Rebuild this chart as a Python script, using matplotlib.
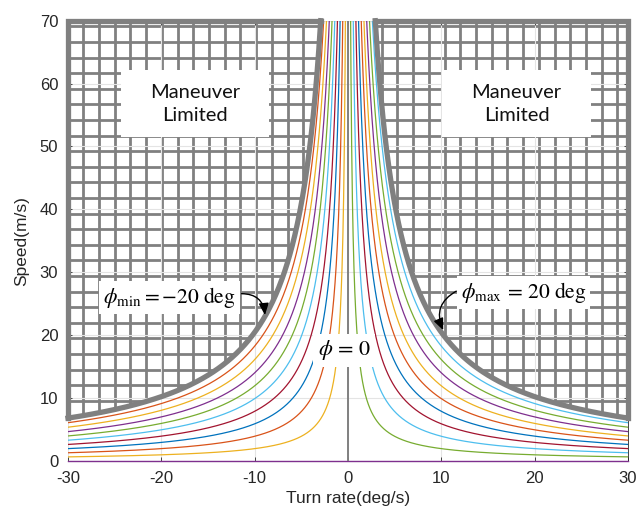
import numpy as np
import matplotlib
matplotlib.use("Agg")
import matplotlib.pyplot as plt
from matplotlib.patches import Polygon, Rectangle

# bank angles of the plotted family (deg): -20:2:20
bank_deg = list(range(-20, 21, 2))
bank_limit = 20          # phi_min / phi_max boundary (deg)
G = 9.81                 # coordinated turn: V = g*tan(phi)/omega
turn_lim = (-30, 30)
speed_lim = (0, 70)
xticks = [-30, -20, -10, 0, 10, 20, 30]
yticks = [0, 10, 20, 30, 40, 50, 60, 70]

# MATLAB default colour order
colors = ["#0072BD", "#D95319", "#EDB120", "#7E2F8E",
          "#77AC30", "#4DBEEE", "#A2142F"]
GRAY = "#808080"

plt.rcParams["font.family"] = ["Liberation Sans", "DejaVu Sans"]
plt.rcParams["mathtext.fontset"] = "stix"
plt.rcParams["axes.unicode_minus"] = False

fig = plt.figure(figsize=(6.39, 5.16), dpi=100)
ax = fig.add_axes([0.1064, 0.1066, 0.8764, 0.8533])
ax.set_xlim(*turn_lim)
ax.set_ylim(*speed_lim)


def speed(phi_deg, omega_deg):
    return G * np.tan(np.radians(phi_deg)) / np.radians(omega_deg)


w_pos = np.linspace(0.05, 30, 3000)
for i, phi in enumerate(bank_deg):
    c = colors[i % len(colors)]
    if phi == 0:
        ax.plot(turn_lim, [0, 0], color=c, lw=1.0, zorder=3, clip_on=False)
        continue
    w = w_pos if phi > 0 else -w_pos
    ax.plot(w, speed(phi, w), color=c, lw=0.9, zorder=3)

# phi = 0 also means zero turn rate at any speed
ax.plot([0, 0], speed_lim, color=GRAY, lw=1.4, zorder=3)

# maneuver-limited regions: mesh clipped to the area beyond the limit
w70 = np.degrees(G * np.tan(np.radians(bank_limit)) / speed_lim[1])
wb = np.linspace(w70, 30, 400)
vb = speed(bank_limit, wb)
mesh_x = -28.36 + 1.683 * np.arange(0, 36)
mesh_y = 69.1 - 2.48 * np.arange(0, 29)
for side in (-1, 1):
    xs = side * wb
    pts = list(zip(xs, vb)) + [(side * 30, 70)]
    poly = Polygon(pts, closed=True, fc="white", ec="none", zorder=0.8)
    ax.add_patch(poly)
    vl = ax.vlines(mesh_x, 0, 70, color=GRAY, lw=2.0, zorder=1)
    hl = ax.hlines(mesh_y, -30, 30, color=GRAY, lw=2.0, zorder=1)
    vl.set_clip_path(poly)
    hl.set_clip_path(poly)
    ax.plot([side * 30, side * 30, side * w70], [vb[-1], 70, 70],
            color=GRAY, lw=3.8, zorder=4, clip_on=False,
            solid_joinstyle="miter")
    ax.plot(xs, vb, color=GRAY, lw=3.8, zorder=4, clip_on=False)

# axes styling, MATLAB-like
ax.set_xticks(xticks)
ax.set_yticks(yticks)
ax.tick_params(direction="in", length=3, width=0.6, top=True, right=True,
               labelsize=12, colors="#262626", pad=7)
ax.grid(True, color="#e4e4e4", lw=0.8)
ax.set_axisbelow(False)
for sp in ax.spines.values():
    sp.set_color("#262626")
    sp.set_linewidth(0.6)

ax.set_xlabel("Turn rate(deg/s)", fontsize=12.5, color="#262626")
ax.set_ylabel("Speed(m/s)", fontsize=12.5, color="#262626")
ax.xaxis.set_label_coords(0.5, -0.068)
ax.yaxis.set_label_coords(-0.070, 0.5)

# "Maneuver Limited" boxes
for cx in (-16.4, 18.05):
    ax.add_patch(Rectangle((cx - 7.95, 51.5), 15.9, 10.7, fc="white",
                           ec="none", zorder=5))
    ax.text(cx, 56.8, "Maneuver\nLimited", ha="center", va="center",
            fontsize=14.5, family=["Lato", "DejaVu Sans"], color="#111111",
            linespacing=1.4, zorder=6)

box = dict(fc="white", ec="none", pad=3)
ax.text(-19.1, 26.0, r"$\phi_{\min} = -20\ \mathrm{deg}$", ha="center",
        va="center", fontsize=15.5, bbox=box, zorder=6)
ax.text(18.8, 26.8, r"$\phi_{\max}\,=\,20\ \mathrm{deg}$", ha="center",
        va="center", fontsize=15.5, bbox=box, zorder=6)
ax.text(-0.4, 17.6, r"$\phi\,=\,0$", ha="center", va="center",
        fontsize=16, bbox=dict(fc="white", ec="none", pad=3), zorder=6)

arrow = dict(arrowstyle="-|>,head_length=0.7,head_width=0.3", color="black",
             lw=1.0, shrinkA=0, shrinkB=0)
ax.annotate("", xy=(-8.9, 23.2), xytext=(-11.4, 26.6),
            arrowprops=dict(arrow, connectionstyle="arc3,rad=-0.45"),
            zorder=7)
ax.annotate("", xy=(10.2, 20.8), xytext=(11.6, 27.0),
            arrowprops=dict(arrow, connectionstyle="arc3,rad=0.45"),
            zorder=7)

fig.savefig("out.png", dpi=100)
